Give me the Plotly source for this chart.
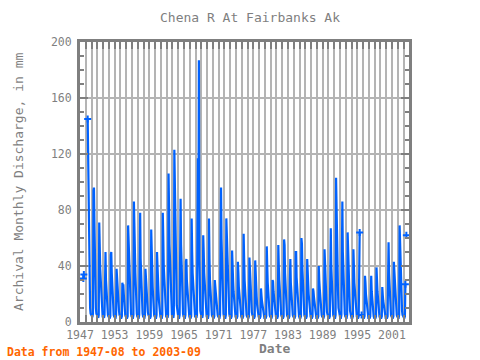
import plotly.graph_objects as go

years = list(range(1947, 2004))
N = None
# monthly discharge (mm), Jan..Dec for each year
v1947 = [N, N, N, N, N, N, N, 31, 34, N, N, N]
v1948 = [N, N, N, N, 145, 110, 66, 55, 28, 10, 6, 5]
v1949 = [4, 4, 4, 6, 94, 96, 71, 40, 25, 10, 6, 5]
v1950 = [4, 3, 3, 5, 71, 55, 38, 30, 20, 9, 6, 4]
v1951 = [4, 3, 3, 5, 35, 50, 30, 22, 15, 8, 5, 4]
v1952 = [3, 3, 3, 4, 48, 50, 35, 25, 18, 8, 5, 4]
v1953 = [3, 3, 3, 5, 38, 30, 22, 20, 14, 8, 5, 4]
v1954 = [3, 3, 3, 4, 28, 26, 27, 20, 12, 7, 5, 4]
v1955 = [3, 3, 3, 4, 69, 56, 40, 28, 20, 9, 6, 4]
v1956 = [3, 3, 3, 5, 86, 58, 45, 35, 25, 10, 6, 4]
v1957 = [4, 3, 3, 5, 52, 78, 45, 30, 22, 9, 6, 4]
v1958 = [3, 3, 3, 5, 38, 30, 22, 16, 12, 7, 5, 4]
v1959 = [3, 3, 3, 4, 66, 45, 35, 25, 18, 8, 5, 4]
v1960 = [3, 3, 3, 5, 50, 35, 30, 22, 15, 8, 5, 4]
v1961 = [3, 3, 3, 5, 78, 60, 40, 32, 22, 9, 6, 4]
v1962 = [4, 3, 3, 5, 106, 82, 55, 45, 30, 12, 7, 5]
v1963 = [4, 4, 3, 6, 123, 87, 60, 50, 35, 12, 7, 5]
v1964 = [4, 3, 3, 5, 57, 88, 55, 40, 28, 10, 6, 4]
v1965 = [3, 3, 3, 5, 43, 45, 30, 25, 18, 8, 5, 4]
v1966 = [3, 3, 3, 4, 74, 50, 35, 28, 20, 9, 6, 4]
v1967 = [4, 3, 3, 5, 75, 117, 60, 187, 45, 14, 8, 6]
v1968 = [4, 4, 3, 5, 62, 50, 35, 28, 18, 9, 6, 4]
v1969 = [3, 3, 3, 5, 74, 45, 30, 22, 15, 8, 5, 4]
v1970 = [3, 3, 3, 4, 30, 25, 20, 18, 12, 7, 5, 4]
v1971 = [3, 3, 3, 5, 51, 96, 60, 45, 30, 10, 6, 4]
v1972 = [3, 3, 3, 5, 74, 62, 45, 35, 22, 9, 6, 4]
v1973 = [3, 3, 3, 4, 51, 45, 30, 22, 15, 8, 5, 4]
v1974 = [3, 3, 3, 4, 43, 35, 25, 19, 14, 7, 5, 4]
v1975 = [3, 3, 3, 4, 63, 45, 30, 22, 15, 8, 5, 4]
v1976 = [3, 3, 3, 4, 46, 35, 25, 20, 14, 7, 5, 4]
v1977 = [3, 3, 3, 4, 44, 30, 25, 18, 12, 7, 5, 4]
v1978 = [3, 3, 3, 4, 24, 19, 15, 12, 9, 6, 4, 3]
v1979 = [3, 3, 3, 4, 54, 40, 28, 20, 14, 7, 5, 4]
v1980 = [3, 3, 3, 4, 30, 29, 22, 18, 12, 7, 5, 4]
v1981 = [3, 3, 3, 4, 55, 40, 30, 22, 15, 8, 5, 4]
v1982 = [3, 3, 3, 4, 59, 55, 35, 25, 16, 8, 5, 4]
v1983 = [3, 3, 3, 4, 30, 45, 28, 20, 14, 7, 5, 4]
v1984 = [3, 3, 3, 4, 50, 50, 32, 24, 16, 8, 5, 4]
v1985 = [3, 3, 3, 4, 60, 56, 38, 26, 17, 8, 5, 4]
v1986 = [3, 3, 3, 4, 45, 40, 28, 20, 14, 7, 5, 4]
v1987 = [3, 3, 3, 4, 24, 22, 18, 14, 10, 6, 4, 3]
v1988 = [3, 3, 3, 4, 40, 30, 24, 18, 12, 7, 5, 4]
v1989 = [3, 3, 3, 4, 52, 38, 28, 20, 14, 7, 5, 4]
v1990 = [3, 3, 3, 4, 46, 67, 40, 28, 18, 8, 5, 4]
v1991 = [3, 3, 3, 5, 103, 70, 45, 35, 22, 10, 6, 4]
v1992 = [4, 3, 3, 5, 67, 86, 50, 35, 22, 9, 6, 4]
v1993 = [3, 3, 3, 5, 64, 47, 32, 25, 16, 8, 5, 4]
v1994 = [3, 3, 3, 4, 52, 40, 28, 22, 14, 7, 5, 4]
v1995 = [3, 3, 3, 4, 30, 64, N, N, N, 5, 4, 3]
v1996 = [3, 3, 3, 4, 33, 28, 20, 16, 11, 6, 4, 3]
v1997 = [3, 3, 3, 4, 30, 33, 22, 16, 11, 6, 4, 3]
v1998 = [3, 3, 3, 4, 39, 30, 22, 16, 11, 6, 4, 3]
v1999 = [3, 3, 3, 4, 25, 19, 15, 12, 9, 6, 4, 3]
v2000 = [3, 3, 3, 4, 53, 57, 35, 25, 16, 8, 5, 4]
v2001 = [3, 3, 3, 4, 43, 35, 25, 18, 12, 7, 5, 4]
v2002 = [3, 3, 3, 5, 69, 55, 38, 27, 18, 8, 5, 4]
v2003 = [3, 3, 3, 4, 27, N, 62, N, N, N, N, N]

yearly = [v1947, v1948, v1949, v1950, v1951, v1952, v1953, v1954, v1955, v1956,
          v1957, v1958, v1959, v1960, v1961, v1962, v1963, v1964, v1965, v1966,
          v1967, v1968, v1969, v1970, v1971, v1972, v1973, v1974, v1975, v1976,
          v1977, v1978, v1979, v1980, v1981, v1982, v1983, v1984, v1985, v1986,
          v1987, v1988, v1989, v1990, v1991, v1992, v1993, v1994, v1995, v1996,
          v1997, v1998, v1999, v2000, v2001, v2002, v2003]

dates = []
vals = []
for y, row in zip(years, yearly):
    for m, v in enumerate(row):
        dates.append(f"{y}-{m + 1:02d}-01")
        vals.append(v)

# segment end points get markers
mx, my = [], []
for i, v in enumerate(vals):
    if v is None:
        continue
    prev_none = i == 0 or vals[i - 1] is None
    next_none = i == len(vals) - 1 or vals[i + 1] is None
    if prev_none or next_none:
        mx.append(dates[i])
        my.append(v)

BLUE = "#0062ff"
GREY = "#7f7f7f"
FONT = "DejaVu Sans Mono"

fig = go.Figure()
fig.add_trace(go.Scatter(x=dates, y=vals, mode="lines", connectgaps=False,
                         line=dict(color=BLUE, width=2.2), showlegend=False))
fig.add_trace(go.Scatter(x=mx, y=my, mode="markers",
                         marker=dict(symbol="cross-thin", size=5, color=BLUE,
                                     line=dict(color=BLUE, width=2)),
                         showlegend=False))

fig.update_layout(
    width=480, height=360,
    margin=dict(l=80, r=71, t=42, b=38),
    paper_bgcolor="white", plot_bgcolor="white",
    font=dict(family=FONT, color=GREY, size=11.5),
    xaxis=dict(
        type="date", range=["1947-01-01", "2003-12-15"],
        tick0="1947-01-01", dtick="M72", tickformat="%Y",
        ticks="inside", ticklen=7, tickwidth=2, tickcolor=GREY,
        showline=True, linecolor=GREY, linewidth=3, mirror="allticks",
        showgrid=True, gridcolor="#b4b4b4", gridwidth=1.5,
        minor=dict(dtick="M12", tick0="1947-01-01", ticks="inside", ticklen=7,
                   tickwidth=2, tickcolor=GREY, showgrid=True,
                   gridcolor="#b4b4b4", gridwidth=1.5),
        zeroline=False, tickfont=dict(size=11.5, color=GREY, family=FONT),
    ),
    yaxis=dict(
        range=[0, 200], tick0=0, dtick=40,
        ticks="inside", ticklen=8, tickwidth=2, tickcolor=GREY,
        showline=True, linecolor=GREY, linewidth=3, mirror="allticks",
        showgrid=True, gridcolor="#b4b4b4", gridwidth=1.5,
        minor=dict(dtick=10, ticks="inside", ticklen=4, tickwidth=2,
                   tickcolor=GREY, showgrid=False),
        zeroline=False, ticklabelstandoff=3,
        tickfont=dict(size=11.5, color=GREY, family=FONT),
    ),
    annotations=[
        dict(text="Chena R At Fairbanks Ak", xref="paper", yref="paper",
             x=(250 - 80) / 329, y=(322 - 17.5) / 280, xanchor="center",
             yanchor="middle", showarrow=False,
             font=dict(size=13, color=GREY, family=FONT)),
        dict(text="<b>Date</b>", xref="paper", yref="paper",
             x=(274 - 80) / 329, y=(322 - 348) / 280, xanchor="center",
             yanchor="middle", showarrow=False,
             font=dict(size=13, color=GREY, family=FONT)),
        dict(text="Archival Monthly Discharge, in mm", xref="paper",
             yref="paper", x=(18 - 80) / 329, y=0.5, xanchor="center",
             yanchor="middle", textangle=-90, showarrow=False,
             font=dict(size=13, color=GREY, family=FONT)),
        dict(text="<b>Data from 1947-08 to 2003-09</b>", xref="paper",
             yref="paper", x=(5 - 80) / 329, y=(322 - 352) / 280,
             xanchor="left", yanchor="middle", showarrow=False,
             font=dict(size=11.5, color="#ff6600", family=FONT)),
    ],
)

fig.write_html("out.html", config={"displayModeBar": False},
               post_script="document.body.style.margin='0px';"
                           "document.body.style.overflow='hidden';")
